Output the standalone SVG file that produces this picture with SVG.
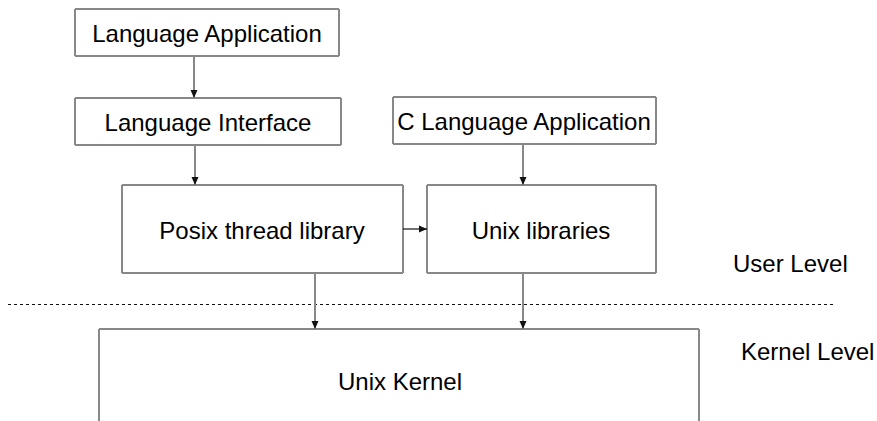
<svg xmlns="http://www.w3.org/2000/svg" width="877" height="421" viewBox="0 0 877 421">
  <style>
    .fill { fill: #ffffff; stroke: none; }
    .hedge { stroke: #111111; stroke-width: 1.2; fill: none; }
    .vedge { stroke: #888888; stroke-width: 2; fill: none; }
    .lbl { font-family: "Liberation Sans", Arial, sans-serif; font-size: 24px; fill: #000000; text-anchor: middle; dominant-baseline: central; }
    .side { font-family: "Liberation Sans", Arial, sans-serif; font-size: 24px; fill: #000000; dominant-baseline: central; }
    .vconn { stroke: #888888; stroke-width: 2; fill: none; marker-end: url(#arrow); }
    .hconn { stroke: #111111; stroke-width: 1.2; fill: none; marker-end: url(#arrow); }
    .divider { stroke: #111111; stroke-width: 1; stroke-dasharray: 3 3; fill: none; }
  </style>
  <defs>
    <marker id="arrow" markerWidth="8" markerHeight="8" refX="8" refY="4" orient="auto" markerUnits="userSpaceOnUse">
      <path d="M0,0.5 L8,4 L0,7.5 Z" fill="#111111"/>
    </marker>
  </defs>

  <rect width="877" height="421" fill="#ffffff"/>

  <g id="lang-app">
    <rect class="fill" x="75" y="9" width="264" height="47"/>
    <path class="hedge" d="M75,9 H339 M75,56 H339"/>
    <path class="vedge" d="M75,9 V56 M339,9 V56"/>
    <text class="lbl" x="207" y="33">Language Application</text>
  </g>
  <g id="lang-iface">
    <rect class="fill" x="75" y="98" width="266" height="47"/>
    <path class="hedge" d="M75,98 H341 M75,145 H341"/>
    <path class="vedge" d="M75,98 V145 M341,98 V145"/>
    <text class="lbl" x="208" y="122">Language Interface</text>
  </g>
  <g id="c-app">
    <rect class="fill" x="393" y="97" width="263" height="47"/>
    <path class="hedge" d="M393,97 H656 M393,144 H656"/>
    <path class="vedge" d="M393,97 V144 M656,97 V144"/>
    <text class="lbl" x="524" y="121">C Language Application</text>
  </g>
  <g id="posix">
    <rect class="fill" x="122" y="185" width="281" height="88"/>
    <path class="hedge" d="M122,185 H403 M122,273 H403"/>
    <path class="vedge" d="M122,185 V273 M403,185 V273"/>
    <text class="lbl" x="262" y="230">Posix thread library</text>
  </g>
  <g id="unix-libs">
    <rect class="fill" x="427" y="185" width="229" height="88"/>
    <path class="hedge" d="M427,185 H656 M427,273 H656"/>
    <path class="vedge" d="M427,185 V273 M656,185 V273"/>
    <text class="lbl" x="541" y="230">Unix libraries</text>
  </g>
  <g id="kernel">
    <path class="hedge" d="M99,329 H699"/>
    <path class="vedge" d="M99,329 V422 M699,329 V422"/>
    <text class="lbl" x="400" y="381">Unix Kernel</text>
  </g>

  <g id="levels">
    <line class="divider" x1="8" y1="304.5" x2="833" y2="304.5"/>
    <text class="side" x="733" y="263">User Level</text>
    <text class="side" x="741" y="351">Kernel Level</text>
  </g>

  <g id="connectors">
    <line class="vconn" x1="194" y1="56" x2="194" y2="98"/>
    <line class="vconn" x1="195" y1="145" x2="195" y2="185"/>
    <line class="vconn" x1="523" y1="144" x2="523" y2="185"/>
    <line class="hconn" x1="403" y1="229" x2="427" y2="229"/>
    <line class="vconn" x1="315" y1="273" x2="315" y2="329"/>
    <line class="vconn" x1="523" y1="273" x2="523" y2="329"/>
  </g>
</svg>
